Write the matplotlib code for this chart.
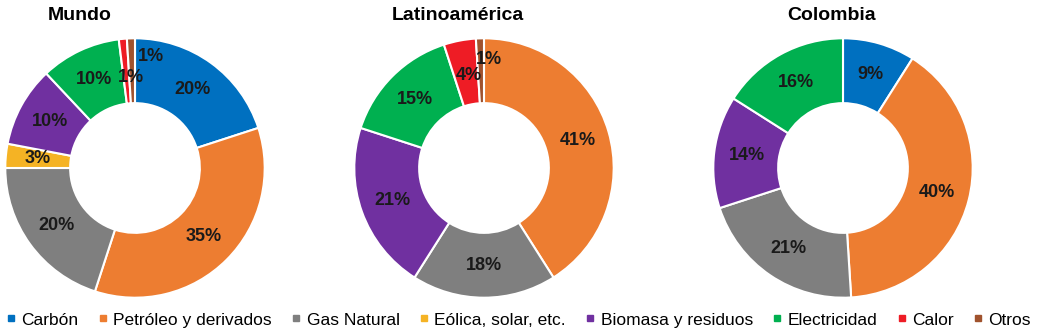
import matplotlib
matplotlib.use("Agg")
import matplotlib.pyplot as plt
from matplotlib.lines import Line2D

plt.rcParams['font.family'] = ['Liberation Sans', 'DejaVu Sans']

categorias = ["Carbón", "Petróleo y derivados", "Gas Natural", "Eólica, solar, etc.",
              "Biomasa y residuos", "Electricidad", "Calor", "Otros"]
colores = ["#0070C0", "#ED7D31", "#7F7F7F", "#F5B324",
           "#7030A0", "#00B050", "#EE1C25", "#A0522D"]

titulos = ["Mundo", "Latinoamérica", "Colombia"]
mundo = [20, 35, 20, 3, 10, 10, 1, 1]
latam = [0, 41, 18, 0, 21, 15, 4, 1]
colombia = [9, 40, 21, 0, 14, 16, 0, 0]
series = [mundo, latam, colombia]

W, H = 1037, 336
fig = plt.figure(figsize=(W / 100, H / 100), dpi=100)

# centro (px) y radio de cada dona, posicion del titulo
centros = [(135, 168), (484, 168), (843, 168)]
radio = 131
titulo_x = [80, 458, 832]

# etiquetas pequeñas que se pisan: se separan a mano (coords del eje)
ajustes = {
    ("Mundo", "Calor"): (-0.03, 0.70),
    ("Mundo", "Otros"): (0.12, 0.86),
    ("Latinoamérica", "Calor"): (-0.12, 0.71),
    ("Latinoamérica", "Otros"): (0.04, 0.84),
}

for vals, cen, tit, tx in zip(series, centros, titulos, titulo_x):
    cx, cy = cen
    ax = fig.add_axes([(cx - radio) / W, (H - cy - radio) / H, 2 * radio / W, 2 * radio / H])
    v = [x for x in vals if x > 0]
    c = [col for x, col in zip(vals, colores) if x > 0]
    nombres = [n for x, n in zip(vals, categorias) if x > 0]
    wedges, texts, autotexts = ax.pie(
        v, colors=c, startangle=90, counterclock=False, radius=1,
        wedgeprops=dict(width=0.5, edgecolor="white", linewidth=1.5),
        autopct=lambda p: f"{p:.0f}%", pctdistance=0.75,
        textprops=dict(fontsize=13, fontweight="bold", color="#1a1a1a"))
    for n, t in zip(nombres, autotexts):
        if (tit, n) in ajustes:
            t.set_position(ajustes[(tit, n)])
    ax.set_xlim(-1.01, 1.01)
    ax.set_ylim(-1.01, 1.01)
    ax.set_aspect("equal")
    ax.axis("off")
    fig.text(tx / W, 1 - 16 / H, tit, ha="center", va="center",
             fontsize=14, fontweight="bold")

handles = [Line2D([0], [0], marker="s", linestyle="none", markersize=4,
                  markerfacecolor=col, markeredgecolor=col) for col in colores]
fig.legend(handles, categorias, loc="center", bbox_to_anchor=(0.5, 1 - 320 / H),
           ncol=8, frameon=False, fontsize=12.5, handlelength=0.6,
           handletextpad=0.3, columnspacing=1.1, borderaxespad=0)

fig.savefig("out.png", dpi=100)
